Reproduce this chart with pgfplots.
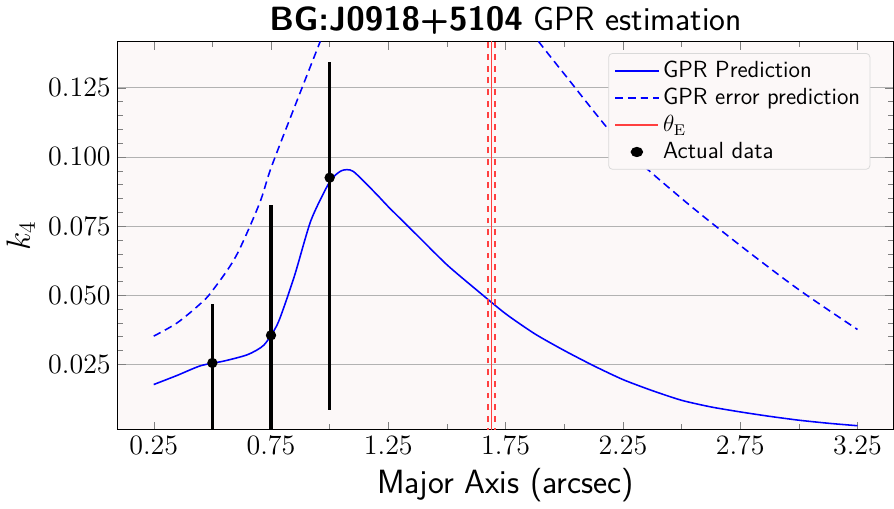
\documentclass[border=0pt]{standalone}
\usepackage{pgfplots}
\pgfplotsset{compat=1.18}
\definecolor{bgc}{HTML}{FCF8F8}
\begin{document}
\begin{tikzpicture}
\begin{axis}[
  width=15.6cm, height=8.6cm,
  axis background/.style={fill=bgc},
  xmin=0.096, xmax=3.404, ymin=0.0013, ymax=0.1418,
  xtick={0.25,0.75,1.25,1.75,2.25,2.75,3.25},
  xticklabels={$0.25$,$0.75$,$1.25$,$1.75$,$2.25$,$2.75$,$3.25$},
  ytick={0.025,0.05,0.075,0.1,0.125},
  yticklabels={$0.025$,$0.050$,$0.075$,$0.100$,$0.125$},
  minor x tick num=1, minor y tick num=4,
  tick align=inside, ticks=both, xtick pos=both, ytick pos=both,
  ymajorgrids, grid style={gray!60},
  tick label style={font=\Large},
  xlabel={\sffamily Major Axis (arcsec)}, ylabel={$k_4$},
  label style={font=\LARGE},
  title={\sffamily\textbf{BG:J0918+5104} GPR estimation}, title style={font=\LARGE, yshift=-6pt},
  legend pos=north east, legend cell align=left,
  legend style={font=\sffamily\large, fill=bgc, draw=gray!30, rounded corners=2pt},
  legend image post style={xscale=1.3},
]
\addplot[blue, thick, smooth, tension=0.4] coordinates {
(0.25,0.0177)(0.35,0.021)(0.45,0.0245)(0.55,0.0262)(0.65,0.0285)(0.72,0.032)(0.78,0.040)(0.85,0.057)(0.92,0.077)(1.0,0.091)(1.05,0.095)(1.1,0.0948)(1.2,0.0865)(1.25,0.082)(1.375,0.0715)(1.5,0.061)(1.625,0.052)(1.75,0.0433)(1.875,0.036)(2.0,0.030)(2.125,0.0245)(2.25,0.0195)(2.375,0.0155)(2.5,0.012)(2.625,0.0096)(2.75,0.0078)(2.875,0.0062)(3.0,0.0048)(3.125,0.0037)(3.25,0.0028)};
\addlegendentry{GPR Prediction}
\addplot[blue, thick, dash pattern=on 4pt off 2.5pt, smooth, tension=0.5] coordinates {
(0.25,0.0352)(0.35,0.040)(0.45,0.047)(0.5,0.0516)(0.6,0.064)(0.7,0.083)(0.75,0.096)(0.85,0.118)(0.96,0.1418)};
\addlegendentry{GPR error prediction}
\addplot[blue, thick, dash pattern=on 4pt off 2.5pt, smooth, tension=0.5, forget plot] coordinates {
(1.89,0.1418)(2.0,0.130)(2.25,0.104)(2.5,0.085)(2.75,0.068)(3.0,0.052)(3.25,0.0376)};
\addplot[red!75, thick] coordinates {(1.69,0)(1.69,0.15)};
\addlegendentry{$\theta_{\rm E}$}
\addplot[red!75, thick, dashed, forget plot] coordinates {(1.675,0)(1.675,0.15)};
\addplot[red!75, thick, dashed, forget plot] coordinates {(1.705,0)(1.705,0.15)};
\addplot[black, only marks, mark=*, mark size=1.8pt, line width=1.6pt,
  error bars/.cd, y dir=both, y explicit, error mark=none,
  error bar style={line width=1.6pt}] coordinates {
(0.5,0.0255) += (0,0.0215) -= (0,0.03)
(0.75,0.0355) += (0,0.047) -= (0,0.05)
(1.0,0.0925) += (0,0.042) -= (0,0.084)};
\addlegendentry{Actual data}
\end{axis}
\end{tikzpicture}
\end{document}
